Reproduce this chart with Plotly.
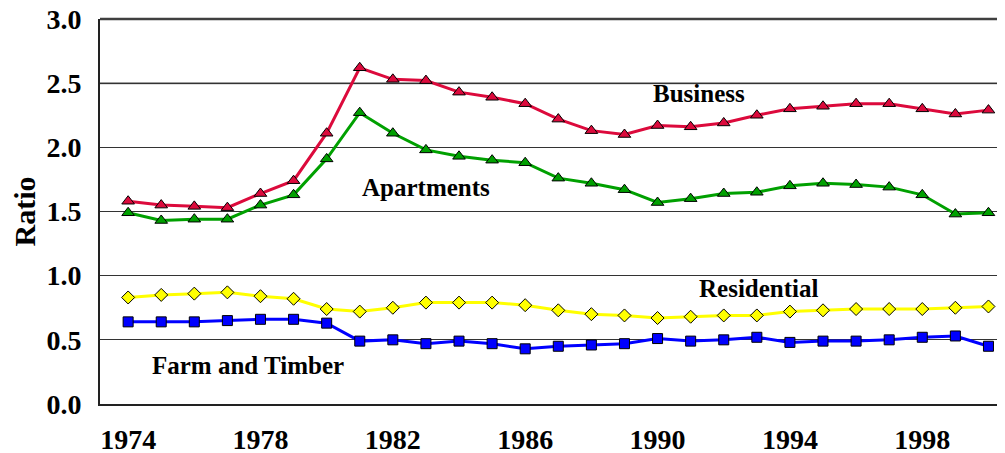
import plotly.graph_objects as go

years = list(range(1974, 2001))
business = [1.58, 1.55, 1.54, 1.53, 1.64, 1.74, 2.11, 2.62, 2.53, 2.52, 2.43, 2.39,
            2.34, 2.22, 2.13, 2.10, 2.17, 2.16, 2.19, 2.25, 2.30, 2.32, 2.34, 2.34,
            2.30, 2.26, 2.29]
apartments = [1.49, 1.43, 1.44, 1.44, 1.55, 1.63, 1.91, 2.27, 2.11, 1.98, 1.93, 1.90,
              1.88, 1.76, 1.72, 1.67, 1.57, 1.60, 1.64, 1.65, 1.70, 1.72, 1.71, 1.69,
              1.63, 1.48, 1.49]
residential = [0.83, 0.85, 0.86, 0.87, 0.84, 0.82, 0.74, 0.72, 0.75, 0.79, 0.79, 0.79,
               0.77, 0.73, 0.70, 0.69, 0.67, 0.68, 0.69, 0.69, 0.72, 0.73, 0.74, 0.74,
               0.74, 0.75, 0.76]
farm_timber = [0.64, 0.64, 0.64, 0.65, 0.66, 0.66, 0.63, 0.49, 0.50, 0.47, 0.49, 0.47,
               0.43, 0.45, 0.46, 0.47, 0.51, 0.49, 0.50, 0.52, 0.48, 0.49, 0.49, 0.50,
               0.52, 0.53, 0.45]
tick_years = [1974, 1978, 1982, 1986, 1990, 1994, 1998]
y_ticks = [0.0, 0.5, 1.0, 1.5, 2.0, 2.5, 3.0]

FONT = "Liberation Serif"

series = [
    ("Business", business, "#DC0A3C", "triangle-up", 11),
    ("Apartments", apartments, "#00A000", "triangle-up", 11),
    ("Residential", residential, "#FFFF00", "diamond", 10),
    ("Farm and Timber", farm_timber, "#0000FF", "square", 10),
]

fig = go.Figure()
for name, vals, color, sym, size in series:
    fig.add_trace(go.Scatter(
        x=years, y=vals, name=name, mode="lines+markers",
        line=dict(color=color, width=3),
        marker=dict(symbol=sym, size=size, color=color,
                    line=dict(color="#000000", width=1)),
        showlegend=False,
    ))

labels = [
    ("Business", 1991.25, 2.42),
    ("Apartments", 1983.0, 1.69),
    ("Residential", 1993.06, 0.90),
    ("Farm and Timber", 1977.62, 0.30),
]
for text, x, y in labels:
    fig.add_annotation(x=x, y=y, text="<b>%s</b>" % text, showarrow=False,
                       font=dict(family=FONT, size=25, color="#000000"))

fig.add_annotation(xref="paper", yref="paper", x=0.52, y=1, yanchor="bottom",
                   yshift=12, text="<b>Share of Market Value</b>", showarrow=False,
                   font=dict(family=FONT, size=28, color="#000000"))

# top frame line and the lighter 2.5 grid line
fig.add_shape(type="line", xref="paper", yref="paper", x0=0, x1=1, y0=1, y1=1,
              line=dict(color="#404040", width=2.5), layer="above")
fig.add_shape(type="line", xref="paper", yref="y", x0=0, x1=1, y0=2.5, y1=2.5,
              line=dict(color="#808080", width=2), layer="below")

fig.update_layout(
    width=997, height=445,
    margin=dict(l=92, r=0, t=11, b=49),
    paper_bgcolor="white", plot_bgcolor="white",
    font=dict(family=FONT, color="#000000"),
    xaxis=dict(range=[1973.15, 2000.5], tickvals=tick_years,
               ticktext=["<b>%d</b>" % t for t in tick_years],
               tickfont=dict(family=FONT, size=28, color="#000000"),
               showgrid=False, zeroline=False, showline=True,
               linecolor="#222222", linewidth=2,
               ticks="", ticklabelstandoff=9, automargin=False,
               ticklabeloverflow="allow"),
    yaxis=dict(range=[0, 3.0], tickvals=y_ticks,
               ticktext=["<b>%.1f</b>" % v for v in y_ticks],
               tickfont=dict(family=FONT, size=28, color="#000000"),
               showgrid=True, gridcolor="#333333", gridwidth=1,
               zeroline=False, showline=True, linecolor="#222222", linewidth=2,
               ticks="", ticklabelstandoff=11, automargin=False,
               ticklabeloverflow="allow",
               title=dict(text="<b>Ratio</b>", standoff=10,
                          font=dict(family=FONT, size=30, color="#000000"))),
)

fig.write_html("out.html")
